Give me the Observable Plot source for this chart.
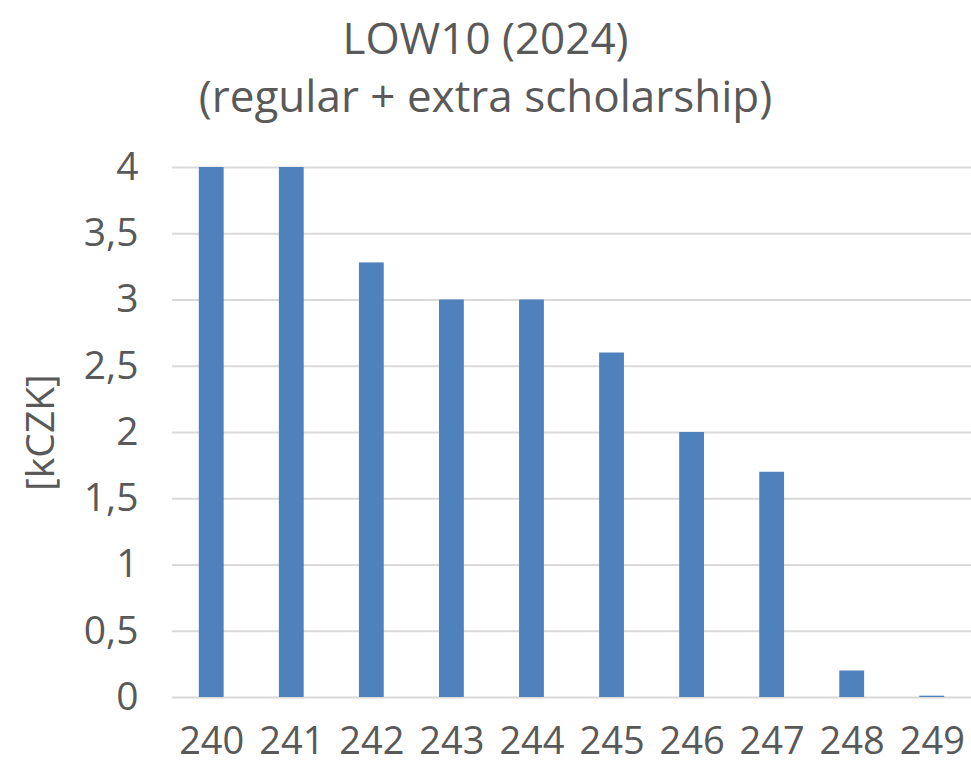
<!DOCTYPE html>
<html>
<head>
<meta charset="utf-8">
<script src="https://cdn.jsdelivr.net/npm/d3@7"></script>
<script src="https://cdn.jsdelivr.net/npm/@observablehq/plot@0.6"></script>
<style>
  body { margin: 0; background: #fff; font-family: "Open Sans", sans-serif; }
  #title { width: 971px; text-align: center; color: #595959; font-size: 44px; line-height: 58px; padding-top: 8px; height: 122px; box-sizing: border-box; }
</style>
</head>
<body>
<div id="title">LOW10 (2024)<br>(regular + extra scholarship)</div>
<div id="chart"></div>
<script>
const categories = ["240","241","242","243","244","245","246","247","248","249"];
const values = [4, 4, 3.28, 3, 3, 2.6, 2, 1.7, 0.2, 0.01];
const yTicks = [0, 0.5, 1, 1.5, 2, 2.5, 3, 3.5, 4];
const data = categories.map((c, i) => ({cat: c, v: values[i]}));

const chart = Plot.plot({
  width: 971,
  height: 647,
  marginTop: 45,
  marginBottom: 72,
  marginLeft: 172,
  marginRight: 0,
  style: {fontFamily: "Open Sans, sans-serif", fontSize: "38px", color: "#595959", background: "#fff"},
  x: {domain: categories, paddingInner: 0.69, paddingOuter: 0.335, round: false, label: null},
  y: {domain: [0, 4], label: null},
  marks: [
    Plot.ruleY(yTicks, {stroke: "#d9d9d9", strokeWidth: 2}),
    Plot.barY(data, {x: "cat", y: "v", fill: "#4f81bd"}),
    Plot.axisX({tickSize: 0, tickPadding: 30, fontSize: 38, fill: "#595959"}),
    Plot.axisY({ticks: yTicks, tickSize: 0, tickPadding: 34, tickFormat: d => String(d).replace(".", ","), fontSize: 39, fill: "#595959",
      label: "[kCZK]", labelAnchor: "center", labelArrow: "none", labelOffset: 146})
  ]
});
document.getElementById("chart").appendChild(chart);
</script>
</body>
</html>
